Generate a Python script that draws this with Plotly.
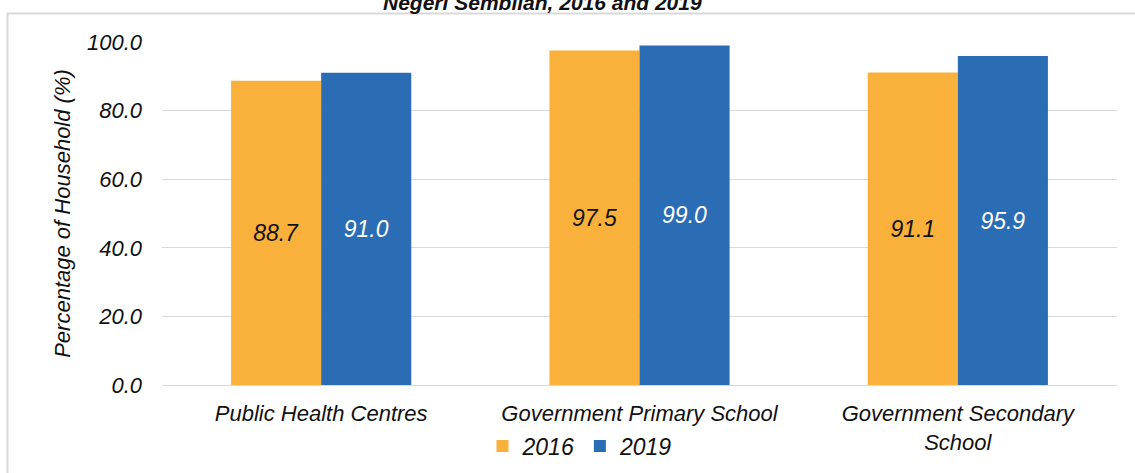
import plotly.graph_objects as go

categories = ["Public Health Centres", "Government Primary School", "Government Secondary<br>School"]
series_names = ["2016", "2019"]
values_2016 = [88.7, 97.5, 91.1]
values_2019 = [91.0, 99.0, 95.9]
y_ticks = [0, 20, 40, 60, 80, 100]
y_tick_labels = ["0.0", "20.0", "40.0", "60.0", "80.0", "100.0"]
title_text = "Negeri Sembilan, 2016 and 2019"
y_title = "Percentage of Household (%)"

FONT = "Liberation Sans, Arial, sans-serif"
ORANGE = "#F9B13B"
BLUE = "#2A6DB5"

fig = go.Figure()
fig.add_trace(go.Bar(
    x=categories, y=values_2016, name=series_names[0],
    marker=dict(color=ORANGE, line=dict(width=0)),
    text=[f"{v:.1f}" for v in values_2016], textposition="inside",
    insidetextanchor="middle",
    textfont=dict(family=FONT, size=23, color="#111111", style="italic"),
))
fig.add_trace(go.Bar(
    x=categories, y=values_2019, name=series_names[1],
    marker=dict(color=BLUE, line=dict(width=0)),
    text=[f"{v:.1f}" for v in values_2019], textposition="inside",
    insidetextanchor="middle",
    textfont=dict(family=FONT, size=23, color="#ffffff", style="italic"),
))

fig.update_layout(
    width=1135, height=473,
    margin=dict(l=162, r=18, t=42, b=88, autoexpand=False),
    paper_bgcolor="white", plot_bgcolor="white",
    barmode="group", bargap=0.434, bargroupgap=0,
    font=dict(family=FONT, color="#111111"),
    legend=dict(
        orientation="h", xanchor="center", yanchor="middle",
        x=0.4377, y=-0.178,
        font=dict(family=FONT, size=23, color="#111111", style="italic"),
        itemwidth=30, traceorder="normal", bgcolor="rgba(0,0,0,0)",
    ),
    xaxis=dict(
        automargin=False,
        showgrid=False, showline=True, linecolor="#d9d9d9", linewidth=1,
        tickfont=dict(family=FONT, size=22, color="#111111", style="italic"),
        ticks="", ticklabelstandoff=9, fixedrange=True,
    ),
    yaxis=dict(
        automargin=False,
        range=[0, 100], tickvals=y_ticks, ticktext=y_tick_labels,
        showgrid=True, gridcolor="#d9d9d9", gridwidth=1,
        zeroline=False, showline=False,
        tickfont=dict(family=FONT, size=22, color="#111111", style="italic"),
        ticks="", ticklabelstandoff=19,
        title=dict(text=y_title, standoff=10,
                   font=dict(family=FONT, size=22, color="#111111", style="italic")),
    ),
    annotations=[dict(
        text=f"<b><i>{title_text}</i></b>", xref="paper", yref="paper",
        x=(542 - 162) / 955, y=(385 - 16) / 343, xanchor="center", yanchor="bottom",
        showarrow=False, font=dict(family=FONT, size=21, color="#111111"),
    )],
    shapes=[
        dict(type="line", xref="paper", yref="paper",
             x0=(7 - 162) / 955, x1=(1135 - 162) / 955,
             y0=(385 - 13.5) / 343, y1=(385 - 13.5) / 343,
             line=dict(color="#d9d9d9", width=2)),
        dict(type="line", xref="paper", yref="paper",
             x0=(7.5 - 162) / 955, x1=(7.5 - 162) / 955,
             y0=(385 - 13) / 343, y1=(385 - 480) / 343,
             line=dict(color="#d9d9d9", width=2)),
    ],
)

fig.write_html(
    "out.html",
    config={"displayModeBar": False},
    post_script="document.body.style.margin='0px';document.body.style.overflow='hidden';",
)
